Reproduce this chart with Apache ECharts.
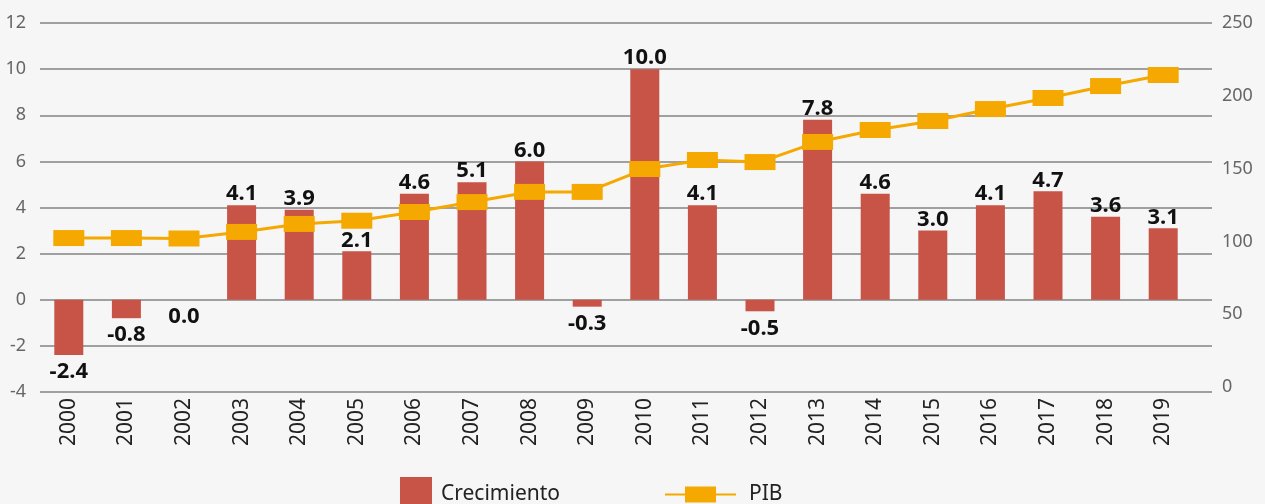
<!DOCTYPE html>
<html>
<head>
<meta charset="utf-8">
<script src="https://cdn.jsdelivr.net/npm/echarts@6/dist/echarts.min.js"></script>
<style>
  html, body { margin: 0; padding: 0; background: #f6f6f6; }
  #chart { width: 1265px; height: 504px; }
</style>
</head>
<body>
<div id="chart"></div>
<script>
const years = ["2000", "2001", "2002", "2003", "2004", "2005", "2006", "2007", "2008", "2009",
  "2010", "2011", "2012", "2013", "2014", "2015", "2016", "2017", "2018", "2019"];
const crecimiento = [-2.4, -0.8, 0.0, 4.1, 3.9, 2.1, 4.6, 5.1, 6.0, -0.3,
  10.0, 4.1, -0.5, 7.8, 4.6, 3.0, 4.1, 4.7, 3.6, 3.1];
const pib = [102.3, 102.3, 102, 106.5, 112, 114.2, 120.2, 127, 134, 134,
  149.7, 155.9, 154.5, 168.3, 176.5, 182.7, 190.9, 198.5, 206.7, 214.3];
const leftTicks = { min: -4, max: 12, step: 2 };
const rightTicks = [0, 50, 100, 150, 200, 250];
const rightRange = { min: -3.43, max: 250 };

const barColor = "#c75446";
const lineColor = "#f5a800";
const font = "'Noto Sans', 'DejaVu Sans', sans-serif";

const chart = echarts.init(document.getElementById("chart"));

chart.setOption({
  backgroundColor: "#f6f6f6",
  animation: false,
  // grid 0: lineas de fondo (un poco mas anchas que las barras), grid 1: datos
  grid: [
    { left: 40, right: 53, top: 23, bottom: 112 },
    { left: 40, right: 73, top: 23, bottom: 112 },
  ],
  legend: [
    {
      data: [{ name: "Crecimiento", icon: "rect" }],
      left: 400,
      top: 477,
      padding: 0,
      itemWidth: 32,
      itemHeight: 34,
      itemGap: 0,
      textStyle: { fontFamily: font, fontSize: 21, color: "#222", padding: [0, 0, 0, 4] },
    },
    {
      data: [{ name: "PIB", icon: "path://M0,7L71,7L71,9L0,9Z M20,0L51,0L51,16L20,16Z" }],
      left: 665,
      top: 484,
      padding: 0,
      itemWidth: 71,
      itemHeight: 16,
      textStyle: { fontFamily: font, fontSize: 21, color: "#222", padding: [0, 0, 0, 8] },
    },
  ],
  xAxis: [
    { gridIndex: 0, type: "value", min: 0, max: 1, show: false },
    {
      gridIndex: 1,
      type: "category",
      data: years,
      axisLine: { show: false },
      axisTick: { show: false },
      axisLabel: {
        rotate: 90,
        margin: 6,
        interval: 0,
        fontFamily: font,
        fontSize: 21,
        color: "#222",
      },
    },
  ],
  yAxis: [
    {
      gridIndex: 0,
      type: "value",
      min: leftTicks.min,
      max: leftTicks.max,
      interval: leftTicks.step,
      axisLine: { show: false },
      axisTick: { show: false },
      axisLabel: { margin: 14, fontFamily: font, fontSize: 18, color: "#666" },
      splitLine: { lineStyle: { color: "#a0a0a0", width: 2 } },
    },
    {
      gridIndex: 0,
      type: "value",
      position: "right",
      min: rightRange.min,
      max: rightRange.max,
      axisLine: { show: false },
      axisTick: { show: false },
      splitLine: { show: false },
      axisLabel: {
        customValues: rightTicks,
        margin: 10,
        fontFamily: font,
        fontSize: 18,
        color: "#666",
      },
    },
    { gridIndex: 1, type: "value", min: leftTicks.min, max: leftTicks.max, show: false },
    { gridIndex: 1, type: "value", position: "right", min: rightRange.min, max: rightRange.max, show: false },
  ],
  series: [
    {
      name: "Crecimiento",
      type: "bar",
      xAxisIndex: 1,
      yAxisIndex: 2,
      barWidth: 29,
      itemStyle: { color: barColor },
      data: crecimiento.map((v) => ({
        value: v,
        label: {
          position: v > 0 ? "top" : "bottom",
          distance: v > 0 ? 0 : 6,
        },
      })),
      label: {
        show: true,
        formatter: (p) => p.value.toFixed(1),
        fontFamily: font,
        fontWeight: "bold",
        fontSize: 22,
        color: "#111",
      },
    },
    {
      name: "PIB",
      type: "line",
      xAxisIndex: 1,
      yAxisIndex: 3,
      z: 3,
      symbol: "rect",
      symbolSize: [31, 16],
      itemStyle: { color: lineColor },
      lineStyle: { color: lineColor, width: 3 },
      data: pib,
    },
  ],
});
</script>
</body>
</html>
